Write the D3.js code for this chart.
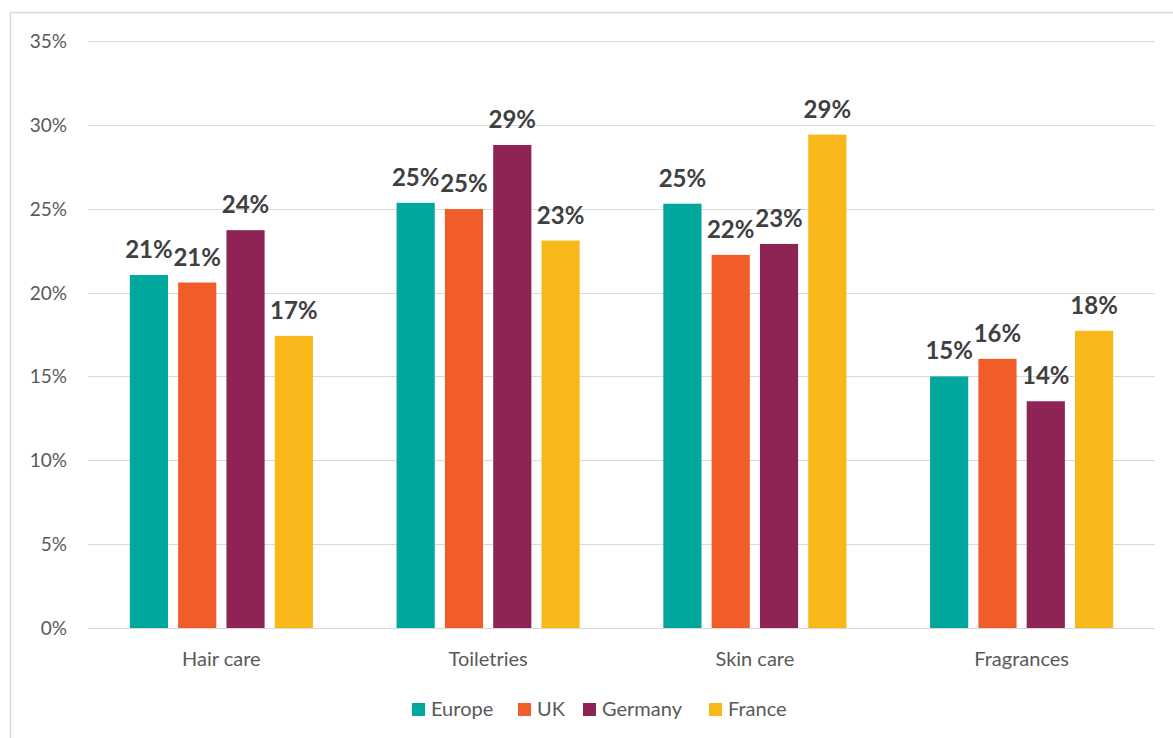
<!DOCTYPE html>
<html>
<head>
<meta charset="utf-8">
<script src="https://cdn.jsdelivr.net/npm/d3@7"></script>
<style>
  body { margin: 0; background: #fff; }
  svg { display: block; font-family: Lato, "Open Sans", sans-serif; }
</style>
</head>
<body>
<div id="chart"></div>
<script>
// data
const categories = ["Hair care", "Toiletries", "Skin care", "Fragrances"];
const seriesNames = ["Europe", "UK", "Germany", "France"];
const europe  = [0.2105, 0.2535, 0.2530, 0.1500];
const uk      = [0.2060, 0.2498, 0.2225, 0.1605];
const germany = [0.2372, 0.2880, 0.2290, 0.1352];
const france  = [0.1742, 0.2310, 0.2942, 0.1772];
const yTicks = [0, 0.05, 0.10, 0.15, 0.20, 0.25, 0.30, 0.35];
const colors = ["#00A79D", "#F15D28", "#8D2455", "#F8B819"];

const seriesValues = [europe, uk, germany, france];

const width = 1173, height = 738;
const svg = d3.select("#chart")
  .append("svg")
    .attr("width", width)
    .attr("height", height);

// chart frame
svg.append("rect")
  .attr("x", 10.5).attr("y", 12.5)
  .attr("width", 1200).attr("height", 800)
  .attr("fill", "none")
  .attr("stroke", "#d9d9d9")
  .attr("stroke-width", 1.5);

// scales
const x0 = d3.scaleBand()
  .domain(categories)
  .range([88, 1155])
  .padding(0);

const x1 = d3.scaleBand()
  .domain(seriesNames)
  .range([0, x0.bandwidth()])
  .paddingInner(0.21)
  .paddingOuter(0.866);

const y = d3.scaleLinear()
  .domain([0, 0.35])
  .range([628, 41]);

const color = d3.scaleOrdinal()
  .domain(seriesNames)
  .range(colors);

// gridlines
svg.append("g")
  .selectAll("line")
  .data(yTicks)
  .join("line")
    .attr("x1", 88).attr("x2", 1155)
    .attr("y1", d => Math.round(y(d)) + 0.5)
    .attr("y2", d => Math.round(y(d)) + 0.5)
    .attr("stroke", "#d9d9d9")
    .attr("stroke-width", 1.2);

// y axis labels
svg.append("g")
  .selectAll("text")
  .data(yTicks)
  .join("text")
    .attr("x", 67)
    .attr("y", d => y(d) + 7)
    .attr("text-anchor", "end")
    .attr("font-size", 19)
    .attr("fill", "#595959")
    .text(d => d3.format(".0%")(d));

// bars
const table = categories.map((c, i) => ({
  category: c,
  values: seriesNames.map((s, j) => ({ series: s, value: seriesValues[j][i] }))
}));

const groups = svg.append("g")
  .selectAll("g")
  .data(table)
  .join("g")
    .attr("transform", d => `translate(${x0(d.category)},0)`);

groups.selectAll("rect")
  .data(d => d.values)
  .join("rect")
    .attr("x", d => x1(d.series))
    .attr("y", d => y(d.value))
    .attr("width", x1.bandwidth())
    .attr("height", d => y(0) - y(d.value))
    .attr("fill", d => color(d.series));

groups.selectAll("text")
  .data(d => d.values)
  .join("text")
    .attr("x", d => x1(d.series) + x1.bandwidth() / 2)
    .attr("y", d => y(d.value) - 17)
    .attr("text-anchor", "middle")
    .attr("font-size", 24)
    .attr("font-weight", "bold")
    .attr("fill", "#404040")
    .text(d => d3.format(".0%")(d.value));

// category labels
svg.append("g")
  .selectAll("text")
  .data(categories)
  .join("text")
    .attr("x", d => x0(d) + x0.bandwidth() / 2)
    .attr("y", 666)
    .attr("text-anchor", "middle")
    .attr("font-size", 20)
    .attr("fill", "#595959")
    .text(d => d);

// legend
const legendX = [412, 518, 583, 709];
const legend = svg.append("g")
  .selectAll("g")
  .data(seriesNames)
  .join("g")
    .attr("transform", (d, i) => `translate(${legendX[i]},703)`);

legend.append("rect")
  .attr("width", 13).attr("height", 13)
  .attr("fill", d => color(d));

legend.append("text")
  .attr("x", 19)
  .attr("y", 13)
  .attr("font-size", 20)
  .attr("fill", "#595959")
  .text(d => d);
</script>
</body>
</html>
